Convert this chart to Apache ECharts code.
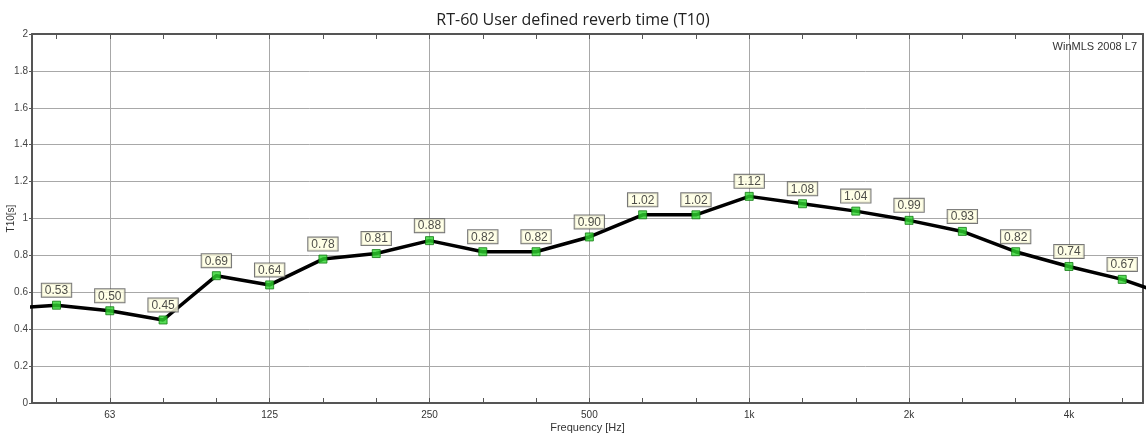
<!DOCTYPE html>
<html>
<head>
<meta charset="utf-8">
<script src="https://cdn.jsdelivr.net/npm/echarts@6/dist/echarts.min.js"></script>
<style>
html,body{margin:0;padding:0;background:#fff;}
#chart{width:1146px;height:436px;}
</style>
</head>
<body>
<div id="chart"></div>
<script>
// Third-octave bands (index = position on log-frequency axis)
const bandLabels = ['50','63','80','100','125','160','200','250','315','400','500','630','800','1k','1.25k','1.6k','2k','2.5k','3.15k','4k','5k'];
const t10Values = [0.53,0.50,0.45,0.69,0.64,0.78,0.81,0.88,0.82,0.82,0.90,1.02,1.02,1.12,1.08,1.04,0.99,0.93,0.82,0.74,0.67];
// curve continues past the visible range (40 Hz and 6.3 kHz bands)
const edgeBefore = 0.51;
const edgeAfter = 0.57;
const octaveIndices = [1,4,7,10,13,16,19];
const yTicks = [0,0.2,0.4,0.6,0.8,1,1.2,1.4,1.6,1.8,2];

const allIdx = bandLabels.map((_, i) => i);
const pointData = t10Values.map((v, i) => [i, v]);
const lineData = [[-1, edgeBefore]].concat(pointData, [[bandLabels.length, edgeAfter]]);

const X_MIN = -0.46, X_MAX = 20.39;
const frame = {color:'#555', width:2};
const font = 'Liberation Sans, Arial, sans-serif';

const chart = echarts.init(document.getElementById('chart'));
chart.setOption({
  animation:false,
  title:[
    {text:'RT-60 User defined reverb time (T10)', left:'center', top:7,
     textStyle:{fontSize:16, fontWeight:'normal', color:'#222', fontFamily:'Open Sans, sans-serif'}},
    {text:'WinMLS 2008 L7', right:4, top:36,
     textStyle:{fontSize:11, fontWeight:'normal', color:'#333', fontFamily:font}}
  ],
  grid:{left:32, right:3, top:34, bottom:33, containLabel:false, outerBoundsMode:'none'},
  xAxis:[
    {type:'value', position:'bottom', min:X_MIN, max:X_MAX,
     name:'Frequency [Hz]', nameLocation:'middle', nameGap:19, nameMoveOverlap:false,
     nameTextStyle:{fontSize:11, color:'#333', fontFamily:font},
     axisLine:{show:true, onZero:false, lineStyle:frame},
     axisTick:{show:true, inside:true, length:5, customValues:allIdx, lineStyle:{color:'#555', width:1}},
     axisLabel:{show:true, customValues:octaveIndices, margin:7, fontSize:10, color:'#333', fontFamily:font,
       formatter:(v)=>bandLabels[Math.round(v)]},
     splitLine:{show:false}},
    {type:'value', position:'top', min:X_MIN, max:X_MAX,
     axisLine:{show:true, onZero:false, lineStyle:frame},
     axisTick:{show:true, inside:true, length:5, customValues:allIdx, lineStyle:{color:'#555', width:1}},
     axisLabel:{show:false},
     splitLine:{show:false}},
    {type:'value', position:'bottom', min:X_MIN, max:X_MAX,
     axisLine:{show:false, onZero:false},
     axisTick:{show:false, customValues:octaveIndices},
     axisLabel:{show:false},
     splitLine:{show:true, lineStyle:{color:'#a8a8a8', width:1}}}
  ],
  yAxis:[
    {type:'value', min:0, max:2, interval:0.2, position:'left',
     name:'T10[s]', nameLocation:'middle', nameGap:16, nameRotate:90, nameMoveOverlap:false,
     nameTextStyle:{fontSize:10, color:'#333', fontFamily:font},
     axisLine:{show:true, onZero:false, lineStyle:frame},
     axisTick:{show:true, inside:false, length:3, lineStyle:{color:'#555'}},
     axisLabel:{margin:4, fontSize:10, color:'#444', fontFamily:font,
       formatter:(v)=>String(Math.round(v*10)/10)},
     splitLine:{show:true, lineStyle:{color:'#a8a8a8', width:1}}},
    {type:'value', min:0, max:2, interval:0.2, position:'right',
     axisLine:{show:true, onZero:false, lineStyle:frame},
     axisTick:{show:false}, axisLabel:{show:false}, splitLine:{show:false}}
  ],
  series:[
    {type:'line', xAxisIndex:0, yAxisIndex:0, data:lineData, showSymbol:false, clip:true,
     lineStyle:{color:'#000', width:3.5}, z:3, silent:true},
    {type:'scatter', xAxisIndex:0, yAxisIndex:0, data:pointData, symbol:'rect', symbolSize:8,
     itemStyle:{color:'#2ed42e', borderColor:'#117a11', borderWidth:1}, z:4,
     label:{show:true, position:'top', distance:4,
       formatter:(p)=>p.value[1].toFixed(2),
       fontSize:12, color:'#222', fontFamily:font,
       backgroundColor:'#ffffe1', borderColor:'#555', borderWidth:1, padding:[1,3,0,3]}}
  ]
});
</script>
</body>
</html>
